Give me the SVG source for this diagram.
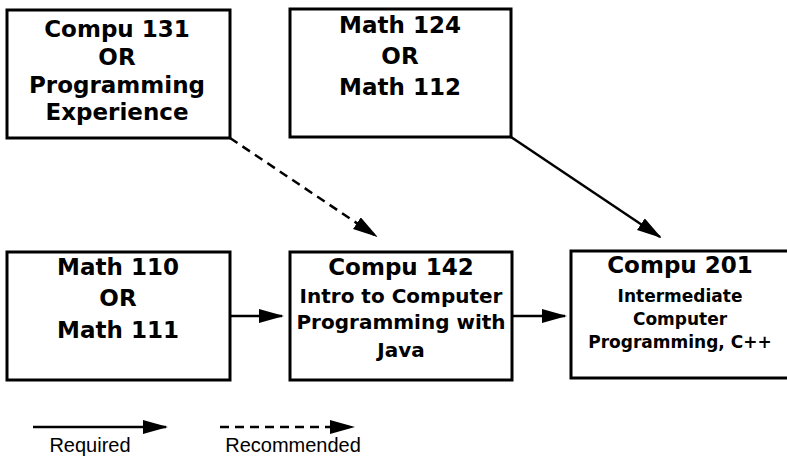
<svg xmlns="http://www.w3.org/2000/svg" width="787" height="457" viewBox="0 0 787 457">
<style>
.box{fill:#fff;stroke:#000;stroke-width:3}
.t{font-family:"DejaVu Sans",sans-serif;font-weight:bold;fill:#000;text-anchor:middle}
.big{font-size:23px}
.mid{font-size:20px}
.sm{font-size:17px}
.conn{stroke:#000;stroke-width:2.5;fill:none;marker-end:url(#ah)}
.dash{stroke-dasharray:9 6}
.leg{font-family:"Liberation Sans",Arial,sans-serif;font-size:20px;fill:#000;text-anchor:middle}
</style>
<defs>
<marker id="ah" markerUnits="userSpaceOnUse" markerWidth="28" markerHeight="16" refX="23" refY="7" orient="auto">
<path d="M0,0 L25,7 L0,14 z" fill="#000"/>
</marker>
</defs>
<g id="connectors">
<line class="conn" x1="230" y1="316" x2="282" y2="316"/>
<line class="conn" x1="512" y1="316" x2="565" y2="316"/>
<line class="conn dash" x1="230" y1="138" x2="376" y2="236"/>
<line class="conn" x1="511" y1="137" x2="660" y2="237"/>
</g>
<g id="compu131">
<rect class="box" x="7" y="10" width="223" height="128"/>
<text class="t big" x="117" y="37">Compu 131</text>
<text class="t big" x="117" y="65">OR</text>
<text class="t big" x="117" y="93">Programming</text>
<text class="t big" x="117" y="120">Experience</text>
</g>
<g id="math124">
<rect class="box" x="290" y="9" width="221" height="128"/>
<text class="t big" x="400" y="33">Math 124</text>
<text class="t big" x="400" y="64">OR</text>
<text class="t big" x="400" y="95">Math 112</text>
</g>
<g id="math110">
<rect class="box" x="7" y="252" width="223" height="128"/>
<text class="t big" x="118" y="275">Math 110</text>
<text class="t big" x="118" y="306">OR</text>
<text class="t big" x="118" y="338">Math 111</text>
</g>
<g id="compu142">
<rect class="box" x="290" y="252" width="222" height="128"/>
<text class="t big" x="401" y="275">Compu 142</text>
<text class="t mid" x="401" y="303">Intro to Computer</text>
<text class="t mid" x="401" y="329">Programming with</text>
<text class="t mid" x="401" y="357">Java</text>
</g>
<g id="compu201">
<rect class="box" x="571" y="251" width="222" height="127"/>
<text class="t big" x="680" y="273">Compu 201</text>
<text class="t sm" x="680" y="302">Intermediate</text>
<text class="t sm" x="680" y="325">Computer</text>
<text class="t sm" x="680" y="348">Programming, C++</text>
</g>
<g id="legend">
<line class="conn" x1="33" y1="427" x2="166" y2="427"/>
<line class="conn dash" x1="220" y1="427" x2="353" y2="427"/>
<text class="leg" x="90" y="452">Required</text>
<text class="leg" x="293" y="452">Recommended</text>
</g>
</svg>
